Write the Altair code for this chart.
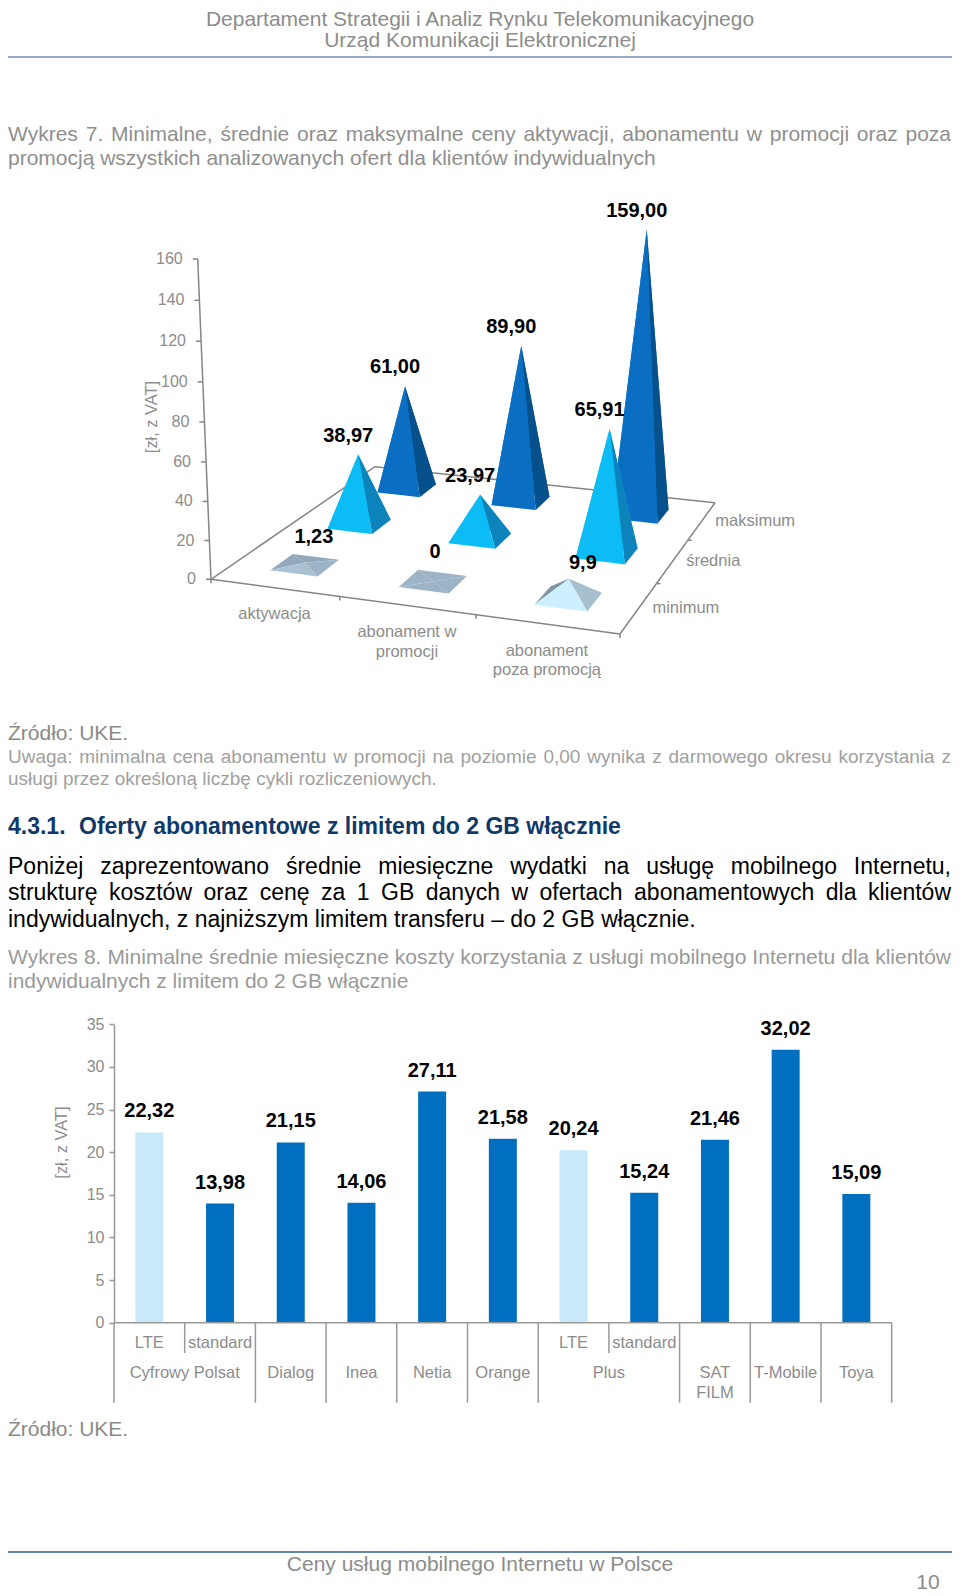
import altair as alt

FONT = "Liberation Sans"
GREY = "#8c8c8c"
AXIS = "#858585"

# ---------- chart data ----------
categories3d = ["aktywacja", "abonament w promocji", "abonament poza promocją"]
series3d = ["minimum", "średnia", "maksimum"]
minimum = [1.23, 0, 9.9]
average = [38.97, 23.97, 65.91]
maximum = [61.00, 89.90, 159.00]
minimum_labels = ["1,23", "0", "9,9"]
average_labels = ["38,97", "23,97", "65,91"]
maximum_labels = ["61,00", "89,90", "159,00"]
axis3d_ticks = [0, 20, 40, 60, 80, 100, 120, 140, 160]

bar_operators = ["Cyfrowy Polsat", "Cyfrowy Polsat", "Dialog", "Inea", "Netia", "Orange",
                 "Plus", "Plus", "SAT FILM", "T-Mobile", "Toya"]
bar_kinds = ["LTE", "standard", "", "", "", "", "LTE", "standard", "", "", ""]
bar_values = [22.32, 13.98, 21.15, 14.06, 27.11, 21.58, 20.24, 15.24, 21.46, 32.02, 15.09]

# ---------- page scales ----------
PX = alt.Scale(domain=[8, 952], range=[0, 944])
PY = alt.Scale(domain=[8, 1596], range=[0, 1588])
X = alt.X("x:Q", scale=PX, axis=None)
Y = alt.Y("y:Q", scale=PY, axis=None)

def txt(rows, size, color, weight="normal", align="left", angle=0):
    kw = dict(angle=angle) if angle else {}
    return alt.Chart(alt.Data(values=rows)).mark_text(
        font=FONT, fontSize=size, color=color, fontWeight=weight, align=align,
        baseline="middle", **kw).encode(x=X, y=Y, text="t:N")

def rules(rows, color=AXIS, width=1.5):
    return alt.Chart(alt.Data(values=rows)).mark_rule(color=color, strokeWidth=width).encode(
        x=X, y=Y, x2="x2:Q", y2="y2:Q")

# ---------- justified text ----------
W = {" ": 278, ",": 278, ".": 278, ":": 278, "–": 556}
for c in "0123456789": W[c] = 556
for cs, w in [("abdeghnopqu", 556), ("ckszvxy", 500), ("ijl", 222), ("ft", 278), ("r", 333), ("m", 833), ("w", 722),
              ("ąęńóh", 556), ("ćśźż", 500), ("ł", 222),
              ("ABEKPSVXY", 667), ("CDHNRU", 722), ("GOQ", 778), ("FTZ", 611), ("I", 278), ("J", 500), ("L", 556), ("M", 833), ("W", 944)]:
    for c in cs: W[c] = w

def twidth(s, size):
    return sum(W.get(c, 556) for c in s) * size / 1000

def justified(line, y, size, x0=8, x1=951):
    words = line.split(" ")
    gap = (x1 - x0 - sum(twidth(w, size) for w in words)) / (len(words) - 1)
    rows, x = [], x0
    for w in words:
        rows.append({"x": x, "y": y, "t": w})
        x += twidth(w, size) + gap
    return rows

layers = []

# ---------- page furniture ----------
layers.append(rules([{"x": 8, "y": 57, "x2": 952, "y2": 57}], "#9aa8cc", 2))
layers.append(rules([{"x": 8, "y": 1552, "x2": 952, "y2": 1552}], "#5f85ad", 2))
layers.append(txt([{"x": 480, "y": 20, "t": "Departament Strategii i Analiz Rynku Telekomunikacyjnego"},
                   {"x": 480, "y": 41, "t": "Urząd Komunikacji Elektronicznej"},
                   {"x": 480, "y": 1565, "t": "Ceny usług mobilnego Internetu w Polsce"}], 21, GREY, align="center"))
layers.append(txt([{"x": 928, "y": 1583, "t": "10"}], 21, GREY, align="center"))
layers.append(txt(justified("Wykres 7. Minimalne, średnie oraz maksymalne ceny aktywacji, abonamentu w promocji oraz poza", 135, 21)
                  + [{"x": 8, "y": 159, "t": "promocją wszystkich analizowanych ofert dla klientów indywidualnych"}], 21, "#8f8f8f"))
layers.append(txt([{"x": 8, "y": 734, "t": "Źródło: UKE."}, {"x": 8, "y": 1430, "t": "Źródło: UKE."}], 21, "#8a8a8a"))
layers.append(txt(justified("Uwaga: minimalna cena abonamentu w promocji na poziomie 0,00 wynika z darmowego okresu korzystania z", 757, 19)
                  + [{"x": 8, "y": 779, "t": "usługi przez określoną liczbę cykli rozliczeniowych."}], 19, "#a0a0a0"))
layers.append(txt([{"x": 8, "y": 827, "t": "4.3.1."}, {"x": 79, "y": 827, "t": "Oferty abonamentowe z limitem do 2 GB włącznie"}], 23, "#10396a", weight="bold"))
layers.append(txt(justified("Poniżej zaprezentowano średnie miesięczne wydatki na usługę mobilnego Internetu,", 867, 23)
                  + justified("strukturę kosztów oraz cenę za 1 GB danych w ofertach abonamentowych dla klientów", 893, 23)
                  + [{"x": 8, "y": 920, "t": "indywidualnych, z najniższym limitem transferu – do 2 GB włącznie."}], 23, "#000000"))
layers.append(txt(justified("Wykres 8. Minimalne średnie miesięczne koszty korzystania z usługi mobilnego Internetu dla klientów", 958, 21)
                  + [{"x": 8, "y": 982, "t": "indywidualnych z limitem do 2 GB włącznie"}], 21, "#999999"))

# ---------- 3D chart: perspective projection of the floor ----------
C00, C10, C11, C01 = (211, 579.3), (620, 634), (715, 502.7), (375, 466.7)
_dx1, _dx2 = C10[0] - C11[0], C01[0] - C11[0]
_dy1, _dy2 = C10[1] - C11[1], C01[1] - C11[1]
_sx = C00[0] - C10[0] + C11[0] - C01[0]
_sy = C00[1] - C10[1] + C11[1] - C01[1]
_det = _dx1 * _dy2 - _dx2 * _dy1
G = (_sx * _dy2 - _dx2 * _sy) / _det
H = (_dx1 * _sy - _sx * _dy1) / _det
K = 1.95

def den(u, v):
    return G * u + H * v + 1

def project(u, v, val=0):
    d = den(u, v)
    x = ((C10[0] - C00[0] + G * C10[0]) * u + (C01[0] - C00[0] + H * C01[0]) * v + C00[0]) / d
    y = ((C10[1] - C00[1] + G * C10[1]) * u + (C01[1] - C00[1] + H * C01[1]) * v + C00[1]) / d
    # verticals converge upward: height grows slightly with value and leans away from the view centre
    return x + val * (u - 0.45) * 0.11, y - val * K * (1 + val * 0.00018) / d

def tri_rows(a, b, c, color, fid):
    p = sorted([a, b, c])
    span = (p[2][0] - p[0][0]) or 1
    ym = p[0][1] + (p[2][1] - p[0][1]) * (p[1][0] - p[0][0]) / span
    return [{"x": p[0][0], "y": p[0][1], "y2": p[0][1], "c": color, "id": fid},
            {"x": p[1][0], "y": p[1][1], "y2": ym, "c": color, "id": fid},
            {"x": p[2][0], "y": p[2][1], "y2": p[2][1], "c": color, "id": fid}]

def colours(series, val):
    if series == 2:
        return dict(back="#0a6fc2", left="#0a6fc2", right="#06508c", front="#0a6fc2")
    if series == 1:
        return dict(back="#0bbcf5", left="#0bbcf5", right="#0d83bb", front="#0bbcf5")
    if val == 0:
        return dict(back="#9db4c6", left="#9db4c6", right="#9db4c6", front="#9db4c6")
    if val < 5:
        return dict(back="#93a9bb", left="#93a9bb", right="#9db4c6", front="#a9c1d2")
    return dict(back="#a8bfd0", left="#7f95a8", right="#a8bfd0", front="#cdefff")

HALF = 0.0625
faces, fid = [], 0
for s in (2, 1, 0):
    vals = [minimum, average, maximum][s]
    for i, val in enumerate(vals):
        u, v = (i + 0.5) / 3, (s + 0.5) / 3
        FL, FR = project(u - HALF, v - HALF), project(u + HALF, v - HALF)
        BR, BL = project(u + HALF, v + HALF), project(u - HALF, v + HALF)
        A = project(u, v, val)
        col = colours(s, val)
        for a, b, name in [(BL, BR, "back"), (FL, BL, "left"), (FR, BR, "right"), (FL, FR, "front")]:
            faces += tri_rows(a, b, A, col[name], f"f{fid:03d}")
            fid += 1

floor = [(C00, C10), (C10, C11), (C11, C01), (C01, C00)]
floor_rows = [{"x": a[0], "y": a[1], "x2": b[0], "y2": b[1]} for a, b in floor]
for k in range(0, 4):
    px, py = project(k / 3, 0)
    floor_rows.append({"x": px, "y": py, "x2": px, "y2": py + 4})
for k in (1, 2):
    px, py = project(1, k / 3)
    floor_rows.append({"x": px, "y": py, "x2": px + 4, "y2": py})
layers.append(rules(floor_rows))

layers.append(alt.Chart(alt.Data(values=faces)).mark_area(interpolate="linear").encode(
    x=X, y=alt.Y("y:Q", scale=PY, axis=None, stack=None), y2="y2:Q",
    color=alt.Color("c:N", scale=None), detail="id:N"))

def axis_xy(val):
    return 211 - 13.3 * val / 160, 579.3 - val * (1.93 + val * 0.00045)

axis_rows = [{"x": axis_xy(0)[0], "y": axis_xy(0)[1], "x2": axis_xy(160)[0], "y2": axis_xy(160)[1]}]
axis_labels = []
for tv in axis3d_ticks:
    ax, ay = axis_xy(tv)
    axis_rows.append({"x": ax - 5, "y": ay, "x2": ax, "y2": ay})
    axis_labels.append({"x": ax - 15, "y": ay, "t": str(tv)})
layers.append(rules(axis_rows))
layers.append(txt(axis_labels, 16, GREY, align="right"))
layers.append(txt([{"x": 152, "y": 417, "t": "[zł, z VAT]"}], 16.4, GREY, align="center", angle=270))

cat_lines = [["aktywacja"], ["abonament w", "promocji"], ["abonament", "poza promocją"]]
cat_rows = []
for i, lines in enumerate(cat_lines):
    px, py = project((i + 0.5) / 3, 0)
    for n, line in enumerate(lines):
        cat_rows.append({"x": px, "y": py + 26.5 + 19.5 * n, "t": line})
layers.append(txt(cat_rows, 16.5, GREY, align="center"))
ser_rows = []
for j, name in enumerate(series3d):
    px, py = project(1, (j + 0.5) / 3)
    ser_rows.append({"x": px + 13.5, "y": py, "t": name})
layers.append(txt(ser_rows, 16.5, GREY))

lab_rows = []
for s, (vals, labs) in enumerate([(minimum, minimum_labels), (average, average_labels), (maximum, maximum_labels)]):
    for i, (val, lab) in enumerate(zip(vals, labs)):
        ax_, ay_ = project((i + 0.5) / 3, (s + 0.5) / 3, val)
        if s > 0:
            dx, dy = -10, -19
        else:
            dx, dy = [(9, -26), (2, -29), (14, -16)][i]
        lab_rows.append({"x": ax_ + dx, "y": ay_ + dy, "t": lab})
layers.append(txt(lab_rows, 20, "#000000", weight="bold", align="center"))

# ---------- bar chart ----------
BX = alt.Scale(domain=[0, 11], range=[114 - 8, 891.7 - 8], padding=0)
BY = alt.Scale(domain=[0, 35], range=[1322.7 - 8, 1024.3 - 8])
bar_rows = [{"pos": i + 0.5, "value": v, "label": f"{v:.2f}".replace(".", ","),
             "colour": "#c9e9fb" if bar_kinds[i] == "LTE" else "#006fbf"}
            for i, v in enumerate(bar_values)]
BAR_X = alt.X("pos:Q", scale=BX, axis=None)

layers.append(alt.Chart(alt.Data(values=bar_rows)).mark_bar(size=28, orient="vertical").encode(
    x=BAR_X,
    y=alt.Y("value:Q", scale=BY, axis=alt.Axis(
        orient="left", offset=-(114 - 8), values=[0, 5, 10, 15, 20, 25, 30, 35], title=None, grid=False,
        labelFont=FONT, labelFontSize=16, labelColor=GREY, labelPadding=5, tickSize=5, tickColor="#999999",
        domainColor="#999999", domainWidth=1.5, tickWidth=1.5)),
    color=alt.Color("colour:N", scale=None)))
layers.append(alt.Chart(alt.Data(values=bar_rows)).mark_text(
    font=FONT, fontSize=20, fontWeight="bold", color="#000000", baseline="middle", align="center", dy=-21).encode(
    x=BAR_X, y=alt.Y("value:Q", scale=BY, axis=None), text="label:N"))

# multi-level category axis
LONG, SHORT = -9.38, -3.55
sep_rows = [{"pos": k, "a": 0, "b": LONG} for k in range(12) if k not in (1, 7)]
sep_rows += [{"pos": k, "a": 0, "b": SHORT} for k in (1, 7)]
layers.append(alt.Chart(alt.Data(values=sep_rows)).mark_rule(color="#999999", strokeWidth=1.5).encode(
    x=BAR_X, y=alt.Y("a:Q", scale=BY, axis=None), y2="b:Q"))
layers.append(alt.Chart(alt.Data(values=[{"pos": 0, "p2": 11, "a": 0}])).mark_rule(color="#999999", strokeWidth=1.5).encode(
    x=BAR_X, x2="p2:Q", y=alt.Y("a:Q", scale=BY, axis=None)))

kind_rows = [{"pos": i + 0.5, "a": 0, "t": k} for i, k in enumerate(bar_kinds) if k]
layers.append(alt.Chart(alt.Data(values=kind_rows)).mark_text(
    font=FONT, fontSize=16.5, color=GREY, align="center", baseline="middle", dy=20.5).encode(
    x=BAR_X, y=alt.Y("a:Q", scale=BY, axis=None), text="t:N"))

op_rows, seen = [], []
for name in bar_operators:
    if name in seen:
        continue
    seen.append(name)
    idx = [i for i, n in enumerate(bar_operators) if n == name]
    mid = (idx[0] + idx[-1] + 1) / 2
    if name == "SAT FILM":
        op_rows.append({"pos": mid, "a": 0, "t": "SAT"})
    else:
        op_rows.append({"pos": mid, "a": 0, "t": name})
layers.append(alt.Chart(alt.Data(values=op_rows)).mark_text(
    font=FONT, fontSize=16.5, color=GREY, align="center", baseline="middle", dy=50.5).encode(
    x=BAR_X, y=alt.Y("a:Q", scale=BY, axis=None), text="t:N"))
film_pos = bar_operators.index("SAT FILM") + 0.5
layers.append(alt.Chart(alt.Data(values=[{"pos": film_pos, "a": 0, "t": "FILM"}])).mark_text(
    font=FONT, fontSize=16.5, color=GREY, align="center", baseline="middle", dy=70).encode(
    x=BAR_X, y=alt.Y("a:Q", scale=BY, axis=None), text="t:N"))
layers.append(txt([{"x": 61.7, "y": 1142.5, "t": "[zł, z VAT]"}], 16.4, GREY, align="center", angle=270))

chart = alt.layer(*layers).resolve_scale(x="independent", y="independent", color="independent").properties(
    width=944, height=1588, padding=0, autosize=alt.AutoSizeParams(type="none")
).configure_view(stroke=None).configure_axis(grid=False)

chart.save("out.html", embed_options={"renderer": "svg", "actions": False})
